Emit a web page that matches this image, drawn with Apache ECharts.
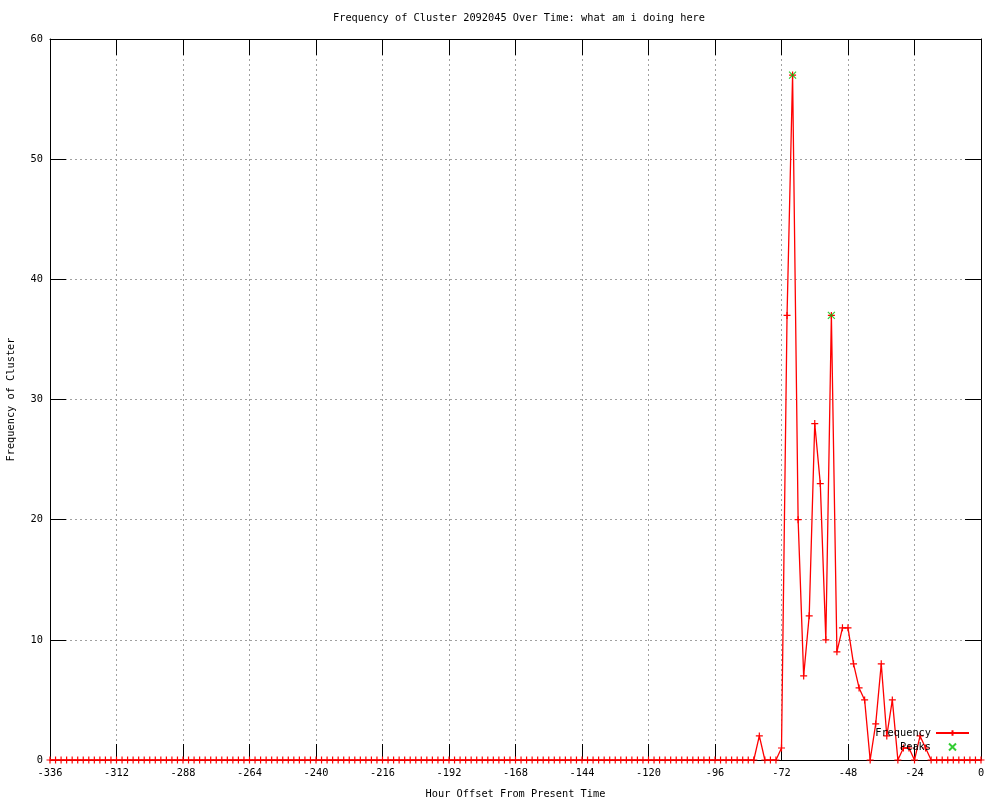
<!DOCTYPE html>
<html>
<head>
<meta charset="utf-8">
<script src="https://cdn.jsdelivr.net/npm/echarts@6/dist/echarts.min.js"></script>
<style>html,body{margin:0;padding:0;background:#fff}#c{width:1000px;height:800px}</style>
</head>
<body>
<div id="c"></div>
<script>
// Hour offsets (x) for every sample
const hours = [
-336,-334,-332,-330,-328,-326,-324,-322,-320,-318,-316,-314,-312,-310,-308,-306,
-304,-302,-300,-298,-296,-294,-292,-290,-288,-286,-284,-282,-280,-278,-276,-274,
-272,-270,-268,-266,-264,-262,-260,-258,-256,-254,-252,-250,-248,-246,-244,-242,
-240,-238,-236,-234,-232,-230,-228,-226,-224,-222,-220,-218,-216,-214,-212,-210,
-208,-206,-204,-202,-200,-198,-196,-194,-192,-190,-188,-186,-184,-182,-180,-178,
-176,-174,-172,-170,-168,-166,-164,-162,-160,-158,-156,-154,-152,-150,-148,-146,
-144,-142,-140,-138,-136,-134,-132,-130,-128,-126,-124,-122,-120,-118,-116,-114,
-112,-110,-108,-106,-104,-102,-100,-98,-96,-94,-92,-90,-88,-86,-84,-82,
-80,-78,-76,-74,-72,-70,-68,-66,-64,-62,-60,-58,-56,-54,-52,-50,
-48,-46,-44,-42,-40,-38,-36,-34,-32,-30,-28,-26,-24,-22,-20,-18,
-16,-14,-12,-10,-8,-6,-4,-2,0
];
// Frequency of cluster at each hour offset
const frequency = [
0,0,0,0,0,0,0,0,0,0,0,0,0,0,0,0,
0,0,0,0,0,0,0,0,0,0,0,0,0,0,0,0,
0,0,0,0,0,0,0,0,0,0,0,0,0,0,0,0,
0,0,0,0,0,0,0,0,0,0,0,0,0,0,0,0,
0,0,0,0,0,0,0,0,0,0,0,0,0,0,0,0,
0,0,0,0,0,0,0,0,0,0,0,0,0,0,0,0,
0,0,0,0,0,0,0,0,0,0,0,0,0,0,0,0,
0,0,0,0,0,0,0,0,0,0,0,0,0,0,0,0,
2,0,0,0,1,37,57,20,7,12,28,23,10,37,9,11,
11,8,6,5,0,3,8,2,5,0,1,1,0,2,1,0,
0,0,0,0,0,0,0,0,0
];
// Detected peaks
const peakHours = [-68, -54];
const peakValues = [57, 37];

const xTicksMin = -336, xTicksMax = 0, xTickStep = 24;
const yTicksMin = 0, yTicksMax = 60, yTickStep = 10;

const FONT = 'DejaVu Sans Mono';
const plusPath = 'path://M0,4H8M4,0V8';
const crossPath = 'path://M0,0L8,8M8,0L0,8';

const freqData = hours.map((h, i) => [h, frequency[i]]);
const peakData = peakHours.map((h, i) => [h, peakValues[i]]);

const chart = echarts.init(document.getElementById('c'), null, {renderer: 'canvas'});
const tickCommon = {inside: true, length: 16, lineStyle: {color: '#000', width: 1}};
const axisLineCommon = {show: true, onZero: false, lineStyle: {color: '#000', width: 1}};
const splitCommon = {show: true, lineStyle: {color: '#a0a0a0', type: [2, 3], width: 1}};

chart.setOption({
  animation: false,
  backgroundColor: '#fff',
  title: {
    text: 'Frequency of Cluster 2092045 Over Time: what am i doing here',
    left: 514, top: 8, textAlign: 'center',
    textStyle: {fontFamily: FONT, fontSize: 10.3, fontWeight: 'normal', color: '#000'}
  },
  grid: {left: 50, right: 19, top: 39, bottom: 40, containLabel: false, outerBoundsMode: 'none'},
  legend: {
    data: [{name: 'Frequency'}, {name: 'Peaks', icon: crossPath}],
    orient: 'vertical', align: 'right',
    right: 25, top: 723,
    itemWidth: 33, itemHeight: 7, itemGap: 4,
    textStyle: {fontFamily: FONT, fontSize: 10.3, color: '#000'},
    selectedMode: false
  },
  xAxis: [{
    type: 'value', min: xTicksMin, max: xTicksMax, interval: xTickStep,
    axisLine: axisLineCommon, axisTick: tickCommon, splitLine: splitCommon,
    axisLabel: {fontFamily: FONT, fontSize: 10.3, color: '#000', margin: 8},
    name: 'Hour Offset From Present Time', nameLocation: 'middle', nameGap: 29,
    nameTextStyle: {fontFamily: FONT, fontSize: 10.3, color: '#000'}
  }, {
    type: 'value', position: 'top', min: xTicksMin, max: xTicksMax, interval: xTickStep,
    axisLine: axisLineCommon, axisTick: tickCommon, splitLine: {show: false},
    axisLabel: {show: false}
  }],
  yAxis: [{
    type: 'value', min: yTicksMin, max: yTicksMax, interval: yTickStep,
    axisLine: axisLineCommon, axisTick: tickCommon, splitLine: splitCommon,
    axisLabel: {fontFamily: FONT, fontSize: 10.3, color: '#000', margin: 7},
    name: 'Frequency of Cluster', nameLocation: 'middle', nameGap: 34,
    nameTextStyle: {fontFamily: FONT, fontSize: 10.3, color: '#000'}
  }, {
    type: 'value', position: 'right', min: yTicksMin, max: yTicksMax, interval: yTickStep,
    axisLine: axisLineCommon, axisTick: tickCommon, splitLine: {show: false},
    axisLabel: {show: false}
  }],
  series: [{
    name: 'Frequency', type: 'line', data: freqData,
    xAxisIndex: 0, yAxisIndex: 0, clip: false,
    symbol: plusPath, symbolSize: 7, showAllSymbol: true,
    lineStyle: {color: '#ff0000', width: 1.3},
    itemStyle: {color: '#ff0000', borderColor: '#ff0000', borderWidth: 1.2},
    emphasis: {disabled: true}, z: 3
  }, {
    name: 'Peaks', type: 'scatter', data: peakData,
    xAxisIndex: 0, yAxisIndex: 0, clip: false,
    symbol: crossPath, symbolSize: 7,
    itemStyle: {color: '#00c000', borderColor: '#00c000', borderWidth: 1.2},
    emphasis: {disabled: true}, z: 4
  }]
});
</script>
</body>
</html>
